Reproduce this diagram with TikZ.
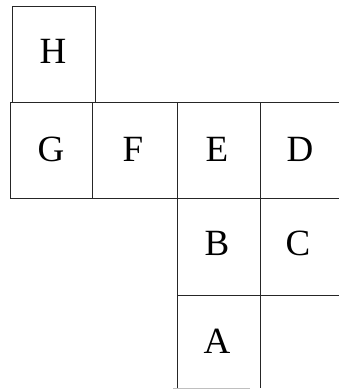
\documentclass[tikz,border=0pt]{standalone}
\usepackage{fontspec}
\setmainfont{Liberation Serif}
\usetikzlibrary{positioning}
\tikzset{
  % Bokstavar i rutene
  letter/.style={inner sep=0pt,font=\fontsize{37}{40}\selectfont},
  % Rutenett
  edge/.style={line width=0.9pt,draw=black!85},
  faint/.style={line width=0.6pt,draw=black!25},
}

\begin{document}
\begin{tikzpicture}[x=1pt,y=-1pt]
  \useasboundingbox (0,0) rectangle (339,389);
  % Rutene
  \draw[edge] (12,102) -- (12,6) -- (95,6) -- (95,102);
  \draw[edge] (10,102) -- (339,102);
  \draw[edge] (10,198) -- (339,198);
  \draw[edge] (177,295) -- (339,295);
  \draw[faint] (173,388) -- (250,388);
  \draw[edge] (10,102) -- (10,198);
  \draw[edge] (92,102) -- (92,198);
  \draw[edge] (177,102) -- (177,388);
  \draw[edge] (260,102) -- (260,388);
  % Bokstavar
  \node[letter] (h) at (53,51) {H};
  \node[letter] (g) at (51,149) {G};
  \node[letter] (f) at (133,149) {F};
  \node[letter] (e) at (217,149) {E};
  \node[letter] (d) at (300,149) {D};
  \node[letter] (b) at (217,243) {B};
  \node[letter] (c) at (298,243) {C};
  \node[letter] (a) at (217,341) {A};
\end{tikzpicture}
\end{document}
